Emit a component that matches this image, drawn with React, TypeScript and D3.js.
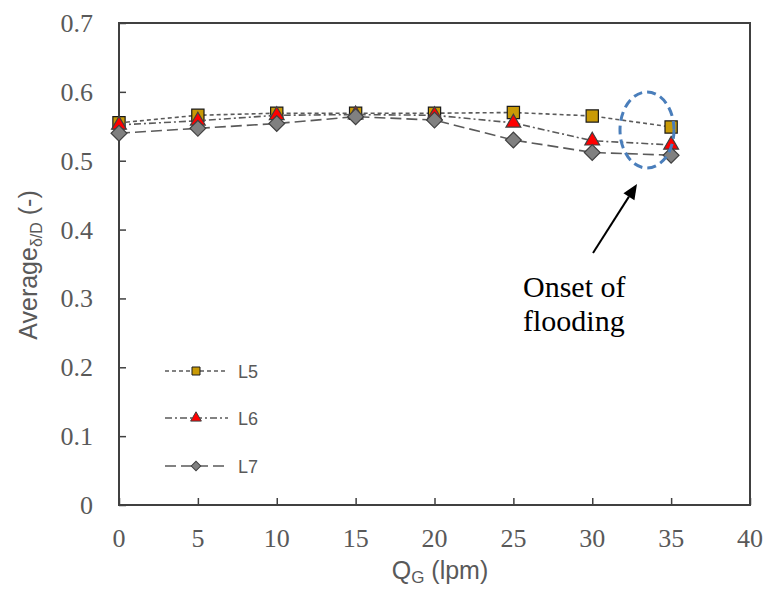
import React, { useEffect, useRef } from 'react';
import * as d3 from 'd3';

// gas flow rate (lpm)
const qg = [0, 5, 10, 15, 20, 25, 30, 35];
const l5 = [0.555, 0.566, 0.569, 0.569, 0.569, 0.570, 0.565, 0.549];
const l6 = [0.552, 0.558, 0.566, 0.567, 0.566, 0.555, 0.529, 0.523];
const l7 = [0.540, 0.547, 0.554, 0.564, 0.559, 0.530, 0.512, 0.508];
const seriesNames = ['L5', 'L6', 'L7'];
const xTicks = [0, 5, 10, 15, 20, 25, 30, 35, 40];
const yTicks = [0, 0.1, 0.2, 0.3, 0.4, 0.5, 0.6, 0.7];

const serif = '"Liberation Serif", "Times New Roman", serif';
const sans = '"Liberation Sans", Arial, sans-serif';
const grey = '#595959';

const App = () => {
  const svgRef = useRef<SVGSVGElement>(null);

  useEffect(() => {
    const svg = d3.select(svgRef.current);
    svg.selectAll('*').remove();

    const width = 769;
    const height = 589;
    const margin = { top: 23, right: 19, bottom: 84, left: 119 };

    const x = d3.scaleLinear().domain([0, 40]).range([margin.left, width - margin.right]);
    const y = d3.scaleLinear().domain([0, 0.7]).range([height - margin.bottom, margin.top]);

    // plot frame
    svg.append('rect')
      .attr('x', x(0)).attr('y', y(0.7))
      .attr('width', x(40) - x(0)).attr('height', y(0) - y(0.7))
      .attr('fill', 'none').attr('stroke', '#404040').attr('stroke-width', 2);

    // inward ticks
    const yAxis = svg.append('g')
      .attr('transform', `translate(${x(0)},0)`)
      .call(d3.axisRight(y).tickValues(yTicks).tickSize(7).tickFormat(() => ''));
    yAxis.select('.domain').remove();
    yAxis.selectAll('line').attr('stroke', '#404040').attr('stroke-width', 1.5);

    const xAxis = svg.append('g')
      .attr('transform', `translate(0,${y(0)})`)
      .call(d3.axisTop(x).tickValues(xTicks).tickSize(7).tickFormat(() => ''));
    xAxis.select('.domain').remove();
    xAxis.selectAll('line').attr('stroke', '#404040').attr('stroke-width', 1.5);

    // tick labels
    svg.append('g').selectAll('text')
      .data(yTicks)
      .join('text')
      .attr('x', 93)
      .attr('y', d => y(d) + 9)
      .attr('text-anchor', 'end')
      .attr('fill', grey)
      .style('font-family', serif)
      .style('font-size', '26px')
      .text(d => d === 0 ? '0' : d3.format('.1f')(d));

    svg.append('g').selectAll('text')
      .data(xTicks)
      .join('text')
      .attr('x', d => x(d))
      .attr('y', 547)
      .attr('text-anchor', 'middle')
      .attr('fill', grey)
      .style('font-family', serif)
      .style('font-size', '26px')
      .text(d => d);

    // axis titles
    const xt = svg.append('text')
      .attr('x', 440).attr('y', 579)
      .attr('text-anchor', 'middle')
      .attr('fill', grey)
      .style('font-family', sans)
      .style('font-size', '25px');
    xt.append('tspan').text('Q');
    xt.append('tspan').attr('dy', 4).style('font-size', '17px').text('G');
    xt.append('tspan').attr('dy', -4).text(' (lpm)');

    const yt = svg.append('text')
      .attr('transform', 'translate(37,265) rotate(-90)')
      .attr('text-anchor', 'middle')
      .attr('fill', grey)
      .style('font-family', sans)
      .style('font-size', '25px');
    yt.append('tspan').text('Average');
    yt.append('tspan').attr('dy', 5).style('font-size', '16px').text('δ/D');
    yt.append('tspan').attr('dy', -5).text(' (-)');

    const styles = [
      { values: l5, dash: '4,3', shape: d3.symbolSquare, size: 150, legendSize: 64, rotate: 0, fill: '#C99A06', stroke: '#1a1a1a' },
      { values: l6, dash: '7,3,2,3', shape: d3.symbolTriangle, size: 95, legendSize: 50, rotate: 0, fill: '#FF0000', stroke: '#404040' },
      { values: l7, dash: '11,5', shape: d3.symbolSquare, size: 125, legendSize: 45, rotate: 45, fill: '#808080', stroke: '#404040' },
    ];

    const line = d3.line<number>()
      .x((_, i) => x(qg[i]))
      .y(d => y(d));

    styles.forEach(s => {
      svg.append('path')
        .datum(s.values)
        .attr('d', line)
        .attr('fill', 'none')
        .attr('stroke', '#5a5a5a')
        .attr('stroke-width', 1.6)
        .attr('stroke-dasharray', s.dash);

      svg.append('g').selectAll('path')
        .data(s.values)
        .join('path')
        .attr('d', d3.symbol().type(s.shape).size(s.size)())
        .attr('transform', (d, i) => `translate(${x(qg[i])},${y(d)}) rotate(${s.rotate})`)
        .attr('fill', s.fill)
        .attr('stroke', s.stroke)
        .attr('stroke-width', 1.2);
    });

    // legend
    const legendY = [371, 418, 466];
    styles.forEach((s, i) => {
      const g = svg.append('g').attr('transform', `translate(165,${legendY[i]})`);
      g.append('line')
        .attr('x1', 0).attr('x2', 63)
        .attr('stroke', '#5a5a5a').attr('stroke-width', 1.6)
        .attr('stroke-dasharray', s.dash);
      g.append('path')
        .attr('d', d3.symbol().type(s.shape).size(s.legendSize)())
        .attr('transform', `translate(31,0) rotate(${s.rotate})`)
        .attr('fill', s.fill)
        .attr('stroke', s.stroke)
        .attr('stroke-width', 1);
      g.append('text')
        .attr('x', 73).attr('y', 7)
        .attr('fill', grey)
        .style('font-family', sans)
        .style('font-size', '18px')
        .text(seriesNames[i]);
    });

    // flooding annotation
    svg.append('ellipse')
      .attr('cx', 647).attr('cy', 130)
      .attr('rx', 27).attr('ry', 38)
      .attr('fill', 'none')
      .attr('stroke', '#4A7EBB')
      .attr('stroke-width', 3)
      .attr('stroke-dasharray', '9,5');

    const tail = [593, 253];
    const tip = [637, 184];
    const ang = Math.atan2(tip[1] - tail[1], tip[0] - tail[0]);
    const headLen = 15;
    const headW = 6.5;
    const bx = tip[0] - headLen * Math.cos(ang);
    const by = tip[1] - headLen * Math.sin(ang);
    svg.append('line')
      .attr('x1', tail[0]).attr('y1', tail[1])
      .attr('x2', bx).attr('y2', by)
      .attr('stroke', '#000').attr('stroke-width', 2);
    svg.append('polygon')
      .attr('points', [
        tip,
        [bx + headW * Math.sin(ang), by - headW * Math.cos(ang)],
        [bx - headW * Math.sin(ang), by + headW * Math.cos(ang)],
      ].map(p => p.join(',')).join(' '))
      .attr('fill', '#000');

    svg.append('text')
      .attr('x', 523).attr('y', 297)
      .attr('fill', '#000')
      .style('font-family', serif)
      .style('font-size', '30px')
      .text('Onset of');
    svg.append('text')
      .attr('x', 523).attr('y', 331)
      .attr('fill', '#000')
      .style('font-family', serif)
      .style('font-size', '30px')
      .text('flooding');
  }, []);

  return (
    <svg
      ref={svgRef}
      width={769}
      height={589}
      style={{ position: 'absolute', left: 0, top: 0, background: '#fff' }}
    />
  );
};

export default App;
